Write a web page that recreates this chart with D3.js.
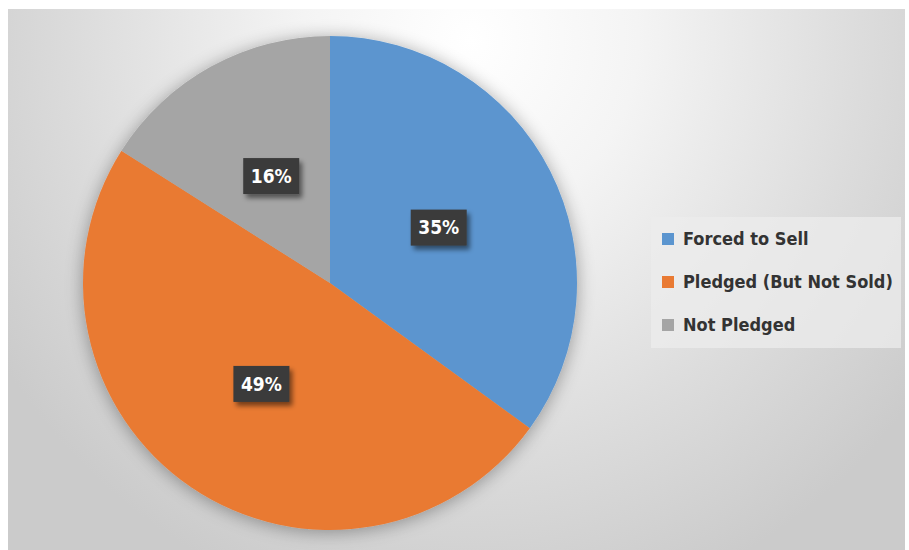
<!DOCTYPE html>
<html>
<head>
<meta charset="utf-8">
<script src="https://cdn.jsdelivr.net/npm/d3@7/dist/d3.min.js"></script>
<style>
  html, body { margin: 0; padding: 0; background: #ffffff; }
  svg { display: block; }
</style>
</head>
<body>
<svg id="chart" width="909" height="550"></svg>
<script>
// Share of respondents by outcome
const categories = ["Forced to Sell", "Pledged (But Not Sold)", "Not Pledged"];
const shares = [35, 49, 16];
const labels = ["35%", "49%", "16%"];
const colors = ["#5b95cf", "#e97a33", "#a5a5a5"];

const W = 909, H = 550;
const svg = d3.select("#chart");
const defs = svg.append("defs");

// Panel background: white glow at the top, grey toward the edges
const bg = defs.append("radialGradient")
  .attr("id", "bgGrad")
  .attr("gradientUnits", "userSpaceOnUse")
  .attr("cx", 470).attr("cy", 40).attr("r", 560)
  .attr("gradientTransform", "translate(470,40) scale(1.0,1.05) translate(-470,-40)");
bg.append("stop").attr("offset", "0%").attr("stop-color", "#ffffff");
bg.append("stop").attr("offset", "30%").attr("stop-color", "#f4f4f4");
bg.append("stop").attr("offset", "70%").attr("stop-color", "#dcdcdc");
bg.append("stop").attr("offset", "100%").attr("stop-color", "#cbcbcb");

// soft halo around the pie
const pieShadow = defs.append("filter").attr("id", "pieShadow")
  .attr("x", "-20%").attr("y", "-20%").attr("width", "140%").attr("height", "140%");
pieShadow.append("feGaussianBlur").attr("in", "SourceAlpha").attr("stdDeviation", 9).attr("result", "b");
pieShadow.append("feOffset").attr("in", "b").attr("dx", 0).attr("dy", 2).attr("result", "o");
pieShadow.append("feComponentTransfer").attr("in", "o").attr("result", "s")
  .append("feFuncA").attr("type", "linear").attr("slope", 0.35);
const m1 = pieShadow.append("feMerge");
m1.append("feMergeNode").attr("in", "s");
m1.append("feMergeNode").attr("in", "SourceGraphic");

// shadow under the value boxes
const boxShadow = defs.append("filter").attr("id", "boxShadow")
  .attr("x", "-30%").attr("y", "-30%").attr("width", "170%").attr("height", "180%");
boxShadow.append("feGaussianBlur").attr("in", "SourceAlpha").attr("stdDeviation", 2.5).attr("result", "b");
boxShadow.append("feOffset").attr("in", "b").attr("dx", 3).attr("dy", 4).attr("result", "o");
boxShadow.append("feComponentTransfer").attr("in", "o").attr("result", "s")
  .append("feFuncA").attr("type", "linear").attr("slope", 0.5);
const m2 = boxShadow.append("feMerge");
m2.append("feMergeNode").attr("in", "s");
m2.append("feMergeNode").attr("in", "SourceGraphic");

svg.append("rect")
  .attr("x", 8).attr("y", 9).attr("width", 897).attr("height", H - 9)
  .attr("fill", "url(#bgGrad)");

// Pie
const cx = 330, cy = 283, R = 247;
const pie = d3.pie().sort(null).value(d => d.value);
const data = categories.map((c, i) => ({ name: c, value: shares[i], label: labels[i], color: colors[i] }));
const arcs = pie(data);
const arc = d3.arc().innerRadius(0).outerRadius(R);
const labelArc = d3.arc().innerRadius(R * 0.494).outerRadius(R * 0.494);

const g = svg.append("g").attr("transform", `translate(${cx},${cy})`);
g.append("g").attr("filter", "url(#pieShadow)")
  .selectAll("path").data(arcs).join("path")
  .attr("d", arc)
  .attr("fill", d => d.data.color);

// value boxes
const lab = g.selectAll("g.lab").data(arcs).join("g")
  .attr("class", "lab")
  .attr("transform", d => `translate(${labelArc.centroid(d)})`);
lab.append("rect")
  .attr("x", -28).attr("y", -18).attr("width", 56).attr("height", 36)
  .attr("fill", "#3b3b3b")
  .attr("filter", "url(#boxShadow)");
lab.append("text")
  .attr("text-anchor", "middle")
  .attr("dy", "0.36em")
  .attr("fill", "#ffffff")
  .attr("font-family", "'DejaVu Sans Condensed', 'DejaVu Sans', sans-serif")
  .attr("font-weight", "bold")
  .attr("font-size", 19)
  .text(d => d.data.label);

// Legend
const legend = svg.append("g");
legend.append("rect")
  .attr("x", 651).attr("y", 217).attr("width", 250).attr("height", 131)
  .attr("fill", "#ececec").attr("opacity", 0.75);
const rowY = d3.scalePoint().domain(categories).range([239, 325]);
const items = legend.selectAll("g.item").data(data).join("g")
  .attr("class", "item")
  .attr("transform", d => `translate(662,${rowY(d.name)})`);
items.append("rect")
  .attr("x", 0).attr("y", -6).attr("width", 12).attr("height", 12)
  .attr("fill", d => d.color);
items.append("text")
  .attr("x", 21).attr("dy", "0.36em")
  .attr("fill", "#333333")
  .attr("font-family", "'DejaVu Sans Condensed', 'DejaVu Sans', sans-serif")
  .attr("font-weight", "bold")
  .attr("font-size", 18)
  .text(d => d.name);
</script>
</body>
</html>
